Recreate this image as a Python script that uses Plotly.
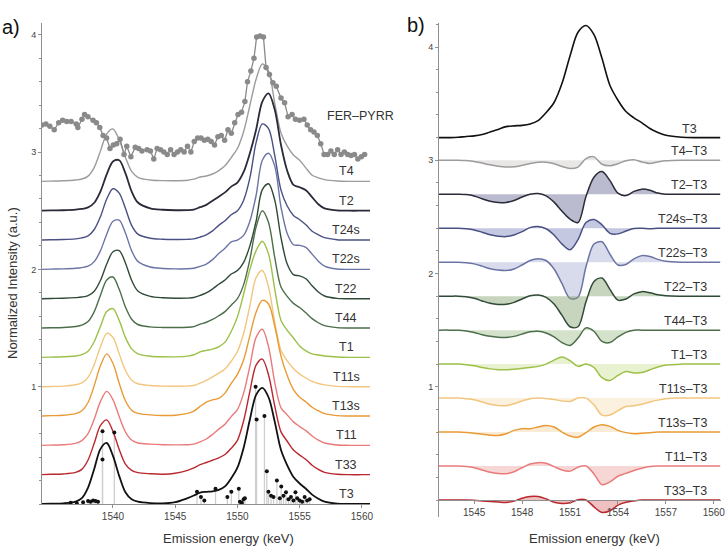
import plotly.graph_objects as go

W, H = 727, 548
FONT = "Liberation Sans, Arial, sans-serif"

# ---------------- Panel a data ----------------
XA = [1534.3, 1535, 1536, 1537, 1537.5, 1538, 1538.5, 1539, 1539.5, 1540, 1540.5, 1541, 1541.5, 1542,
      1543, 1544, 1545, 1546, 1546.5, 1547, 1547.5, 1548, 1548.5, 1549, 1549.5, 1550, 1550.5, 1551,
      1551.5, 1552, 1552.5, 1553, 1553.5, 1554, 1554.5, 1555, 1555.5, 1556, 1556.5, 1557, 1558, 1559,
      1560, 1560.7]

T3_A = [0.0, 0.003, 0.006, 0.02, 0.05, 0.14, 0.3, 0.47, 0.52, 0.41, 0.24, 0.1, 0.04, 0.02,
        0.008, 0.005,
        0.015, 0.05, 0.072, 0.097, 0.104, 0.108, 0.12, 0.15, 0.22, 0.31, 0.48, 0.72, 0.93, 0.99,
        0.91, 0.7, 0.46, 0.33, 0.23, 0.175, 0.13, 0.08, 0.045, 0.02, 0.003, 0, 0, 0]
T33_A = [0, 0.003, 0.006, 0.019, 0.045, 0.125, 0.27, 0.42, 0.467, 0.37, 0.215, 0.09, 0.037, 0.018,
         0.008, 0.004,
         0.012, 0.037, 0.057, 0.085, 0.104, 0.123, 0.143, 0.172, 0.225, 0.293, 0.46, 0.71, 0.933, 0.985,
         0.85, 0.585, 0.365, 0.285, 0.21, 0.167, 0.13, 0.08, 0.045, 0.02, 0.003, 0, 0, 0]
T11_A = [0, 0.002, 0.005, 0.017, 0.04, 0.1, 0.225, 0.375, 0.46, 0.39, 0.245, 0.115, 0.045, 0.02,
         0.01, 0.005,
         0.004, 0.005, 0.01, 0.029, 0.054, 0.093, 0.138, 0.18, 0.245, 0.305, 0.445, 0.675, 0.92, 0.99,
         0.84, 0.535, 0.32, 0.26, 0.2, 0.16, 0.125, 0.08, 0.045, 0.02, 0.003, 0, 0, 0]
T13s_A = [0, 0.003, 0.006, 0.02, 0.045, 0.115, 0.26, 0.43, 0.53, 0.45, 0.28, 0.13, 0.05, 0.022,
          0.01, 0.005,
          0.006, 0.022, 0.042, 0.082, 0.119, 0.138, 0.15, 0.195, 0.278, 0.355, 0.48, 0.685, 0.885, 0.985,
          0.955, 0.765, 0.51, 0.345, 0.225, 0.16, 0.12, 0.075, 0.045, 0.02, 0.003, 0, 0, 0]
T11s_A = [0, 0.002, 0.005, 0.016, 0.032, 0.08, 0.19, 0.34, 0.455, 0.42, 0.28, 0.14, 0.055, 0.025,
          0.01, 0.005,
          0.004, 0.005, 0.01, 0.03, 0.054, 0.083, 0.115, 0.15, 0.217, 0.3, 0.455, 0.69, 0.93, 0.99,
          0.85, 0.55, 0.31, 0.22, 0.155, 0.107, 0.075, 0.045, 0.027, 0.015, 0.003, 0, 0, 0]
T1_A = [0, 0.002, 0.005, 0.012, 0.023, 0.052, 0.135, 0.265, 0.39, 0.415, 0.315, 0.17, 0.072, 0.03,
        0.01, 0.005,
        0.004, 0.01, 0.022, 0.047, 0.059, 0.07, 0.09, 0.13, 0.22, 0.345, 0.54, 0.75, 0.91, 0.99,
        0.88, 0.58, 0.315, 0.23, 0.165, 0.097, 0.055, 0.03, 0.02, 0.012, 0.003, 0, 0, 0]
T44_A = [0, 0.002, 0.005, 0.013, 0.024, 0.055, 0.14, 0.28, 0.41, 0.435, 0.33, 0.18, 0.075, 0.03,
         0.01, 0.005,
         0.004, 0.006, 0.012, 0.033, 0.049, 0.073, 0.105, 0.14, 0.195, 0.25, 0.37, 0.585, 0.86, 1.0,
         0.9, 0.6, 0.35, 0.27, 0.21, 0.175, 0.13, 0.08, 0.045, 0.02, 0.003, 0, 0, 0]
T22_A = [0, 0.002, 0.004, 0.009, 0.014, 0.026, 0.064, 0.157, 0.295, 0.4, 0.41, 0.305, 0.157, 0.066,
         0.02, 0.008,
         0.004, 0.005, 0.01, 0.028, 0.049, 0.083, 0.123, 0.16, 0.21, 0.24, 0.31, 0.45, 0.66, 0.93,
         0.98, 0.84, 0.52, 0.295, 0.205, 0.195, 0.17, 0.11, 0.057, 0.023, 0.003, 0, 0, 0]
T22s_A = [0, 0.002, 0.004, 0.009, 0.015, 0.027, 0.066, 0.16, 0.3, 0.41, 0.42, 0.31, 0.16, 0.068,
          0.02, 0.008,
          0.004, 0.005, 0.01, 0.025, 0.045, 0.083, 0.135, 0.18, 0.235, 0.25, 0.29, 0.41, 0.63, 0.93,
          0.99, 0.88, 0.53, 0.305, 0.21, 0.205, 0.188, 0.13, 0.07, 0.028, 0.003, 0, 0, 0]
T24s_A = [0, 0.002, 0.004, 0.01, 0.018, 0.036, 0.09, 0.2, 0.35, 0.437, 0.4, 0.27, 0.125, 0.05,
          0.015, 0.007,
          0.005, 0.006, 0.01, 0.025, 0.045, 0.078, 0.125, 0.165, 0.215, 0.25, 0.34, 0.53, 0.83, 0.99,
          0.95, 0.72, 0.425, 0.29, 0.21, 0.173, 0.13, 0.075, 0.045, 0.02, 0.003, 0, 0, 0]
T2_A = [0, 0.002, 0.004, 0.009, 0.015, 0.028, 0.068, 0.165, 0.31, 0.42, 0.43, 0.32, 0.165, 0.07,
        0.02, 0.008,
        0.004, 0.005, 0.01, 0.03, 0.05, 0.085, 0.12, 0.156, 0.205, 0.24, 0.33, 0.49, 0.69, 0.93,
        1.0, 0.86, 0.56, 0.34, 0.22, 0.2, 0.175, 0.115, 0.055, 0.02, 0.003, 0, 0, 0]
T4_A = [0, 0.002, 0.005, 0.012, 0.02, 0.045, 0.12, 0.26, 0.405, 0.447, 0.355, 0.205, 0.085, 0.035,
        0.012, 0.006,
        0.005, 0.01, 0.019, 0.037, 0.046, 0.063, 0.092, 0.133, 0.203, 0.28, 0.425, 0.647, 0.87, 1.0,
        0.94, 0.665, 0.412, 0.3, 0.225, 0.18, 0.115, 0.052, 0.03, 0.015, 0.003, 0, 0, 0]

NAMES_A = ["T4", "T2", "T24s", "T22s", "T22", "T44", "T1", "T11s", "T13s", "T11", "T33", "T3"]
OFFSETS_A = [2.75, 2.5, 2.25, 2.0, 1.75, 1.5, 1.25, 1.0, 0.75, 0.5, 0.25, 0.0]

# experimental FER-PYRR spectrum (absolute plotted values)
FER_X = [1534.28, 1534.61, 1534.93, 1535.28, 1535.64, 1535.96, 1536.29, 1536.64, 1537.05, 1537.18,
         1537.51, 1537.72, 1537.99, 1538.40, 1538.67, 1538.94, 1539.21, 1539.49, 1539.76, 1540.03,
         1540.30, 1540.57, 1540.89, 1541.11, 1541.44, 1541.79, 1542.06, 1542.33, 1542.74, 1543.01,
         1543.28, 1543.55, 1543.82, 1544.09, 1544.36, 1544.63, 1544.91, 1545.18, 1545.45, 1545.72,
         1545.99, 1546.26, 1546.53, 1546.80, 1547.07, 1547.34, 1547.62, 1547.89, 1548.16, 1548.43,
         1548.70, 1548.97, 1549.24, 1549.51, 1549.78, 1550.05, 1550.33, 1550.60, 1550.81, 1551.08,
         1551.33, 1551.54, 1551.82, 1552.09, 1552.30, 1552.57, 1552.85, 1553.12, 1553.50, 1553.79,
         1554.07, 1554.39, 1554.66, 1554.99, 1555.34, 1555.61, 1555.88, 1556.15, 1556.42, 1556.69,
         1556.96, 1557.24, 1557.51, 1557.78, 1558.05, 1558.32, 1558.59, 1558.86, 1559.13, 1559.40,
         1559.67, 1559.95, 1560.22]
FER_Y = [3.23, 3.24, 3.22, 3.19, 3.25, 3.27, 3.26, 3.26, 3.24, 3.21,
         3.28, 3.32, 3.30, 3.27, 3.25, 3.21, 3.14, 3.12, 3.03, 3.06,
         3.07, 3.11, 2.98, 3.05, 2.96, 3.04, 3.03, 3.01, 3.02, 3.01,
         2.94, 3.03, 3.02, 3.00, 2.98, 3.02, 2.98, 3.00, 3.02, 3.00,
         3.05, 3.00, 3.09, 3.12, 3.12, 3.10, 3.11, 3.09, 3.06, 3.13,
         3.14, 3.10, 3.19, 3.16, 3.25, 3.32, 3.34, 3.43, 3.60, 3.69,
         3.80, 3.98, 3.99, 3.98, 3.72, 3.66, 3.59, 3.56, 3.46, 3.42,
         3.30, 3.32, 3.28, 3.27, 3.28, 3.23, 3.19, 3.17, 3.14, 3.07,
         2.98, 2.98, 3.01, 2.98, 3.02, 2.98, 3.00, 2.98, 2.97, 2.98,
         2.94, 2.96, 2.98]

# T3 calculated transitions (stick spectrum)
STICK_X = [1536.6, 1537.1, 1537.6, 1538.0, 1538.2, 1538.4, 1538.6, 1538.8, 1539.16, 1539.16, 1540.11,
           1546.75, 1547.07, 1547.34, 1548.24, 1549.19, 1549.51, 1550.11, 1550.2, 1550.35, 1550.5, 1550.6,
           1551.46, 1551.54, 1552.17, 1552.36, 1552.49, 1552.7, 1552.9, 1553.17, 1553.4, 1553.52,
           1553.7, 1553.9, 1554.1, 1554.3, 1554.5, 1554.66, 1554.8, 1555.0, 1555.2, 1555.4, 1555.6, 1555.8]
STICK_Y = [0.01, 0.005, 0.015, 0.025, 0.02, 0.03, 0.025, 0.02, 0.38, 0.62, 0.61,
           0.105, 0.06, 0.03, 0.13, 0.06, 0.105, 0.13, 0.02, 0.01, 0.04, 0.05,
           1.0, 0.72, 0.75, 0.28, 0.105, 0.07, 0.06, 0.2, 0.05, 0.15,
           0.07, 0.1, 0.04, 0.06, 0.03, 0.1, 0.05, 0.03, 0.02, 0.06, 0.03, 0.04]

# ---------------- Panel b data ----------------
XB = [1542.8, 1543.5, 1544, 1544.5, 1545, 1545.5, 1546, 1546.5, 1547, 1547.5, 1548, 1548.5, 1549,
      1549.5, 1550, 1550.5, 1551, 1551.5, 1552, 1552.5, 1553, 1553.5, 1554, 1554.5, 1555, 1555.5,
      1556, 1556.5, 1557, 1558, 1559, 1560.4]

T3_B = [0, 0, 0.003, 0.01, 0.015, 0.027, 0.05, 0.072, 0.097, 0.104, 0.108, 0.12, 0.15, 0.22, 0.31,
        0.48, 0.72, 0.93, 0.99, 0.91, 0.7, 0.46, 0.33, 0.23, 0.175, 0.13, 0.08, 0.045, 0.02, 0.003, 0, 0]
D_T4 = [0, 0, 0, -0.003, -0.01, -0.025, -0.04, -0.053, -0.06, -0.058, -0.045, -0.028, -0.017, -0.017,
        -0.03, -0.055, -0.073, -0.06, 0.015, 0.03, -0.035, -0.048, -0.03, -0.005, 0.005, -0.015,
        -0.028, -0.015, -0.005, 0, 0, 0]
D_T2 = [0, 0, 0, -0.003, -0.015, -0.04, -0.062, -0.073, -0.072, -0.055, -0.025, 0.0, 0.006, -0.015,
        -0.07, -0.15, -0.22, -0.25, -0.02, 0.15, 0.2, 0.12, 0.01, -0.012, 0.025, 0.045, 0.035, 0.01,
        0, 0, 0, 0]
D_T24s = [0, 0, 0, -0.005, -0.015, -0.035, -0.058, -0.07, -0.074, -0.06, -0.03, 0.005, 0.015, -0.005,
          -0.06, -0.14, -0.19, -0.1, 0.05, 0.077, 0.03, -0.045, -0.05, -0.025, -0.002, 0.0, -0.005,
          0, 0, 0, 0, 0]
D_T22s = [0, 0, 0, -0.005, -0.015, -0.035, -0.058, -0.07, -0.074, -0.06, -0.025, 0.015, 0.03, 0.015,
          -0.06, -0.19, -0.32, -0.31, -0.04, 0.16, 0.18, 0.07, -0.025, -0.02, 0.03, 0.058, 0.05, 0.025,
          0.008, 0, 0, 0]
D_T22 = [0, 0, 0, -0.005, -0.018, -0.042, -0.063, -0.073, -0.072, -0.055, -0.025, 0.003, 0.01, -0.01,
         -0.07, -0.17, -0.27, -0.27, -0.05, 0.13, 0.16, 0.06, -0.035, -0.025, 0.02, 0.04, 0.03, 0.012,
         0.003, 0, 0, 0]
D_T44 = [0, 0, -0.002, -0.008, -0.02, -0.04, -0.055, -0.063, -0.064, -0.055, -0.035, -0.015, -0.01,
         -0.025, -0.06, -0.11, -0.135, -0.07, 0.02, -0.01, -0.1, -0.11, -0.06, -0.02, 0, 0, 0, 0, 0,
         0, 0, 0]
D_T1 = [0, 0, 0, -0.005, -0.015, -0.03, -0.042, -0.05, -0.05, -0.045, -0.038, -0.03, -0.02, 0.0,
        0.035, 0.062, 0.03, -0.02, 0.0, -0.03, -0.12, -0.145, -0.1, -0.065, -0.078, -0.075, -0.05,
        -0.025, -0.008, 0, 0, 0]
D_T11s = [0, 0, 0, -0.005, -0.015, -0.035, -0.055, -0.066, -0.067, -0.05, -0.025, -0.005, 0.0, -0.003,
          -0.012, -0.025, -0.03, 0.0, 0.0, -0.06, -0.15, -0.15, -0.11, -0.075, -0.068, -0.055, -0.035,
          -0.018, -0.005, 0, 0, 0]
D_T13s = [0, 0, 0, -0.003, -0.01, -0.02, -0.028, -0.03, -0.015, 0.015, 0.03, 0.03, 0.045, 0.058,
          0.045, 0.0, -0.035, -0.045, -0.005, 0.045, 0.065, 0.05, 0.015, -0.005, -0.015, -0.01,
          -0.005, 0, 0, 0, 0, 0]
D_T11 = [0, 0, 0, -0.005, -0.015, -0.035, -0.055, -0.066, -0.068, -0.05, -0.015, 0.018, 0.03, 0.025,
         -0.005, -0.035, -0.045, -0.01, 0.0, -0.07, -0.165, -0.14, -0.09, -0.065, -0.04, -0.02, -0.005,
         0, 0, 0, 0, 0]
D_T33 = [0, 0, 0, 0, -0.003, -0.008, -0.013, -0.018, -0.022, -0.01, 0.015, 0.03, 0.03, 0.01, -0.02,
         -0.03, -0.025, 0.003, 0.0, -0.06, -0.11, -0.095, -0.045, -0.02, -0.008, 0, 0, 0, 0, 0, 0, 0]

NAMES_B = ["T4–T3", "T2–T3", "T24s–T3", "T22s–T3", "T22–T3", "T44–T3", "T1–T3", "T11s–T3",
           "T13s–T3", "T11–T3", "T33–T3"]
OFFSETS_B = [3.0, 2.7, 2.4, 2.1, 1.8, 1.5, 1.2, 0.9, 0.6, 0.3, 0.0]
T3_B_OFFSET = 3.2

# ---------------- styles ----------------
COLORS = ["#9c9c9c", "#2a2a38", "#4a5084", "#6c74a5", "#2f4a36", "#4d6e4b", "#9cc048",
          "#f2c67f", "#e99a35", "#e97b7b", "#b9282e", "#111111"]
FILLS = ["rgba(200,192,192,0.40)", "rgba(120,120,160,0.50)", "rgba(140,146,195,0.50)",
         "rgba(175,183,215,0.50)", "rgba(130,160,110,0.45)", "rgba(160,190,140,0.45)",
         "rgba(190,215,120,0.35)", "rgba(245,205,150,0.30)", "rgba(240,190,120,0.30)",
         "rgba(235,150,145,0.38)", "rgba(210,90,90,0.38)"]

SERIES_A = [T4_A, T2_A, T24s_A, T22s_A, T22_A, T44_A, T1_A, T11s_A, T13s_A, T11_A, T33_A, T3_A]
SERIES_B = [D_T4, D_T2, D_T24s, D_T22s, D_T22, D_T44, D_T1, D_T11s, D_T13s, D_T11, D_T33]
for s in SERIES_A:
    assert len(s) == len(XA)
for s in SERIES_B + [T3_B]:
    assert len(s) == len(XB)
assert len(FER_X) == len(FER_Y) and len(STICK_X) == len(STICK_Y)

fig = go.Figure()

# ---- Panel a ----
sx, sy = [], []
for x, y in zip(STICK_X, STICK_Y):
    sx += [x, x, None]
    sy += [0, y, None]
fig.add_trace(go.Scatter(x=sx, y=sy, mode="lines", line=dict(color="#cfcfcf", width=1.3),
                         hoverinfo="skip", showlegend=False, xaxis="x", yaxis="y"))

for name, vals, off, col in zip(NAMES_A, SERIES_A, OFFSETS_A, COLORS):
    fig.add_trace(go.Scatter(x=XA, y=[off + v for v in vals], mode="lines",
                             line=dict(color=col, width=1.8 if name in ("T3", "T2") else 1.4,
                                       shape="spline", smoothing=0.9),
                             name=name, showlegend=False, xaxis="x", yaxis="y"))

fig.add_trace(go.Scatter(x=STICK_X, y=STICK_Y, mode="markers",
                         marker=dict(color="#111111", size=4), showlegend=False,
                         xaxis="x", yaxis="y"))

fig.add_trace(go.Scatter(x=FER_X, y=FER_Y, mode="lines+markers",
                         line=dict(color="#8a8a8a", width=1.3),
                         marker=dict(color="#8a8a8a", size=5.5),
                         name="FER–PYRR", showlegend=False, xaxis="x", yaxis="y"))

# ---- Panel b ----
fig.add_trace(go.Scatter(x=XB, y=[T3_B_OFFSET + v for v in T3_B], mode="lines",
                         line=dict(color="#111111", width=1.6, shape="spline", smoothing=0.9),
                         showlegend=False, xaxis="x2", yaxis="y2"))
for name, vals, off, col, fc in zip(NAMES_B, SERIES_B, OFFSETS_B, COLORS[:11], FILLS):
    fig.add_trace(go.Scatter(x=XB, y=[off for _ in XB], mode="lines", line=dict(width=0),
                             hoverinfo="skip", showlegend=False, xaxis="x2", yaxis="y2"))
    fig.add_trace(go.Scatter(x=XB, y=[off + v for v in vals], mode="lines", fill="tonexty",
                             fillcolor=fc,
                             line=dict(color=col, width=1.5, shape="spline", smoothing=0.9),
                             name=name, showlegend=False, xaxis="x2", yaxis="y2"))

# ---------------- layout ----------------
def px_x(p):
    return p / W

def px_y(p):
    return 1 - p / H

YA_RANGE = [0, 4.1]
YB_RANGE = [-0.15, 4.212]
YB_DOM = [px_y(517), px_y(23)]
xb_pos = YB_DOM[0] + (0 - YB_RANGE[0]) / (YB_RANGE[1] - YB_RANGE[0]) * (YB_DOM[1] - YB_DOM[0])

axis_common = dict(showline=True, linecolor="#8f8f8f", linewidth=1, showgrid=False,
                   zeroline=False, ticks="outside", ticklen=3, tickcolor="#8f8f8f",
                   automargin=False,
                   tickfont=dict(family=FONT, size=10, color="#444"))

annotations = []
for name, off in zip(NAMES_A, OFFSETS_A):
    annotations.append(dict(x=1558.75, y=off, xref="x", yref="y", text=name, showarrow=False,
                            xanchor="center", yanchor="bottom", yshift=1,
                            font=dict(family=FONT, size=12.5, color="#333")))
annotations.append(dict(x=1557.0, y=3.31, xref="x", yref="y", text="FER–PYRR", showarrow=False,
                        xanchor="left", yanchor="middle",
                        font=dict(family=FONT, size=12.5, color="#333")))
for name, off in zip(NAMES_B, OFFSETS_B):
    annotations.append(dict(x=1559.7, y=off, xref="x2", yref="y2", text=name, showarrow=False,
                            xanchor="right", yanchor="bottom", yshift=0,
                            font=dict(family=FONT, size=12.5, color="#333")))
annotations.append(dict(x=1559.1, y=T3_B_OFFSET, xref="x2", yref="y2", text="T3", showarrow=False,
                        xanchor="right", yanchor="bottom", yshift=0,
                        font=dict(family=FONT, size=12.5, color="#333")))
annotations += [
    dict(x=px_x(0), y=px_y(27), xref="paper", yref="paper", text="a)", showarrow=False,
         xanchor="left", yanchor="middle", font=dict(family=FONT, size=20, color="#111")),
    dict(x=px_x(405), y=px_y(25), xref="paper", yref="paper", text="b)", showarrow=False,
         xanchor="left", yanchor="middle", font=dict(family=FONT, size=20, color="#111")),
    dict(x=px_x(12), y=px_y(283), xref="paper", yref="paper", text="Normalized Intensity (a.u.)",
         textangle=-90, showarrow=False, xanchor="center", yanchor="middle",
         font=dict(family=FONT, size=13, color="#333")),
    dict(x=px_x(228), y=px_y(538), xref="paper", yref="paper", text="Emission energy (keV)",
         showarrow=False, xanchor="center", yanchor="middle",
         font=dict(family=FONT, size=13, color="#333")),
    dict(x=px_x(594), y=px_y(538), xref="paper", yref="paper", text="Emission energy (keV)",
         showarrow=False, xanchor="center", yanchor="middle",
         font=dict(family=FONT, size=13, color="#333")),
]

fig.update_layout(
    width=W, height=H, margin=dict(l=0, r=0, t=0, b=0, pad=0, autoexpand=False),
    paper_bgcolor="white", plot_bgcolor="white", showlegend=False,
    xaxis=dict(domain=[px_x(42), px_x(370)], range=[1534.3, 1560.65], anchor="y",
               tickvals=[1540, 1545, 1550, 1555, 1560], **axis_common),
    yaxis=dict(domain=[px_y(504), px_y(23)], range=YA_RANGE, anchor="x",
               tickvals=[1, 2, 3, 4],
               minor=dict(dtick=0.2, ticklen=2, ticks="outside", tickcolor="#8f8f8f"),
               **{**axis_common, "tickfont": dict(family=FONT, size=9, color="#444")}),
    xaxis2=dict(domain=[px_x(439), px_x(721)], range=[1542.8, 1560.45], anchor="free",
                position=xb_pos, tickvals=[1545, 1548, 1551, 1554, 1557, 1560], **axis_common),
    yaxis2=dict(domain=YB_DOM, range=YB_RANGE, anchor="x2",
                tickvals=[1, 2, 3, 4],
                minor=dict(dtick=0.2, ticklen=2, ticks="outside", tickcolor="#8f8f8f"),
                **{**axis_common, "tickfont": dict(family=FONT, size=9, color="#444")}),
    annotations=annotations,
)

fig.write_html("out.html", config={"displayModeBar": False, "staticPlot": True},
               post_script="document.body.style.margin='0px';document.body.style.overflow='hidden';")
